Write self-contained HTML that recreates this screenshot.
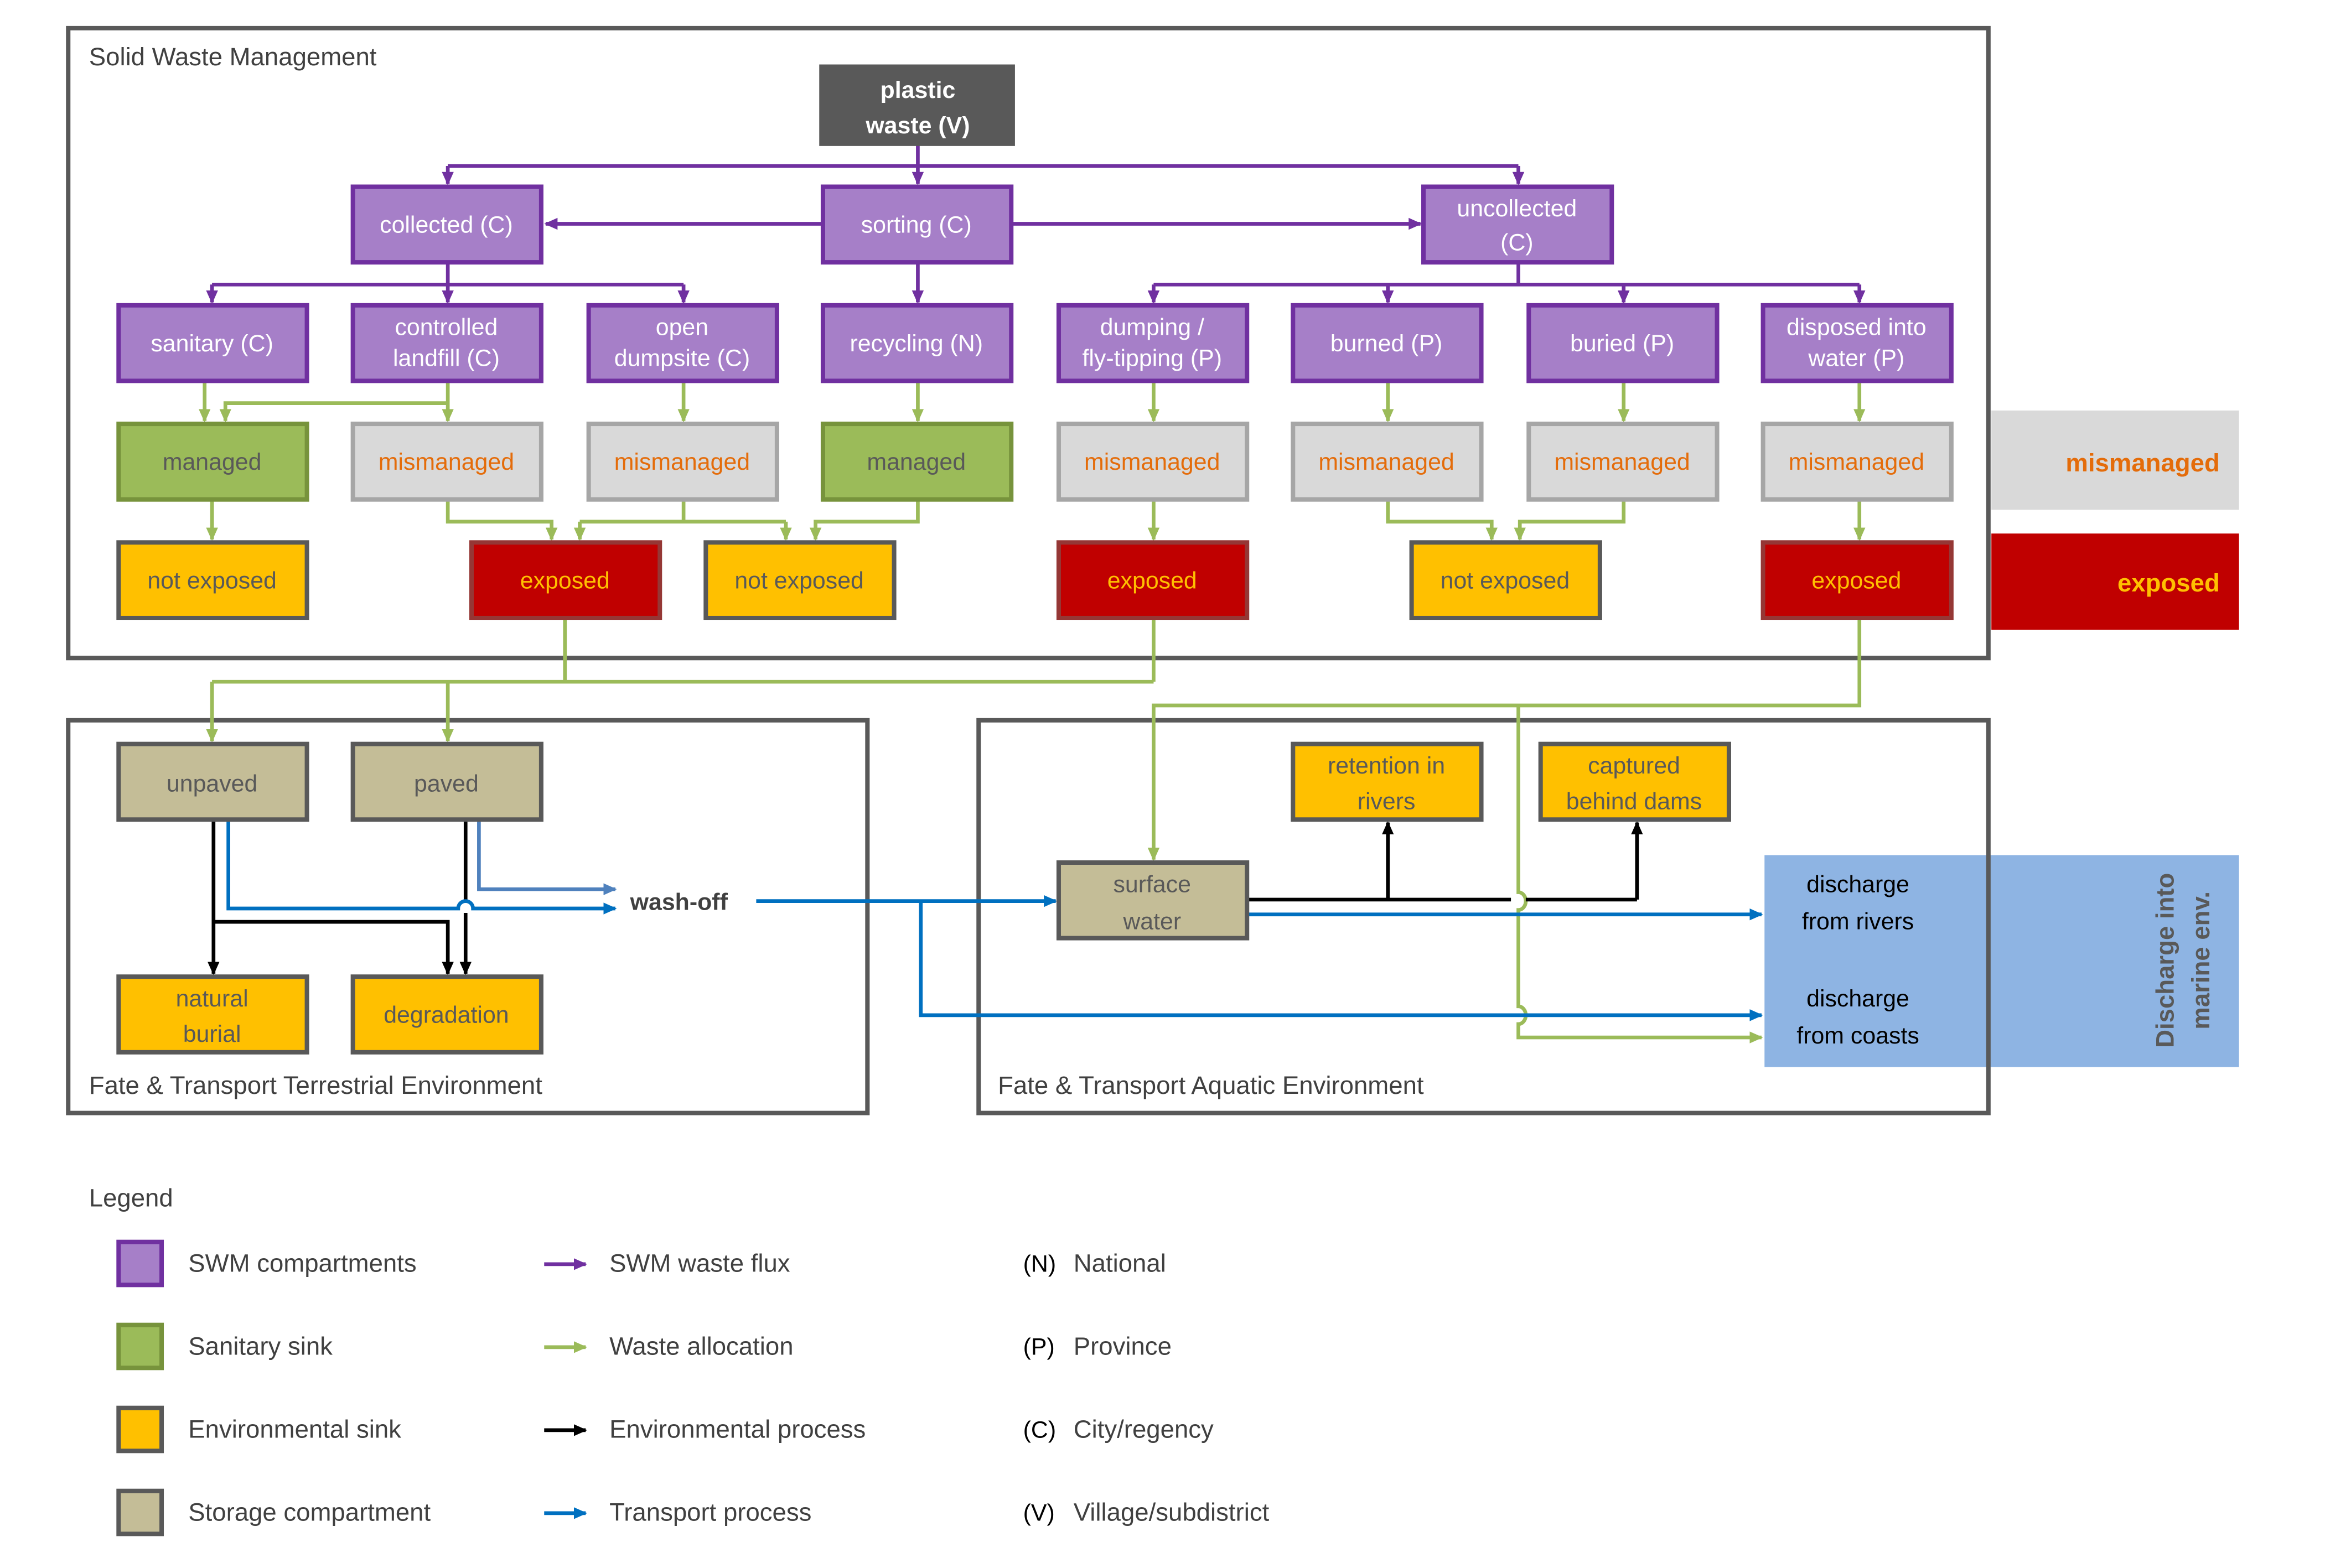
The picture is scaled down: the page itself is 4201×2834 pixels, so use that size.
<!DOCTYPE html>
<html><head><meta charset="utf-8"><style>
html,body{margin:0;padding:0;background:#fff;}
svg{display:block;}
text{font-family:"Liberation Sans",sans-serif;}
</style></head><body>
<svg width="4201" height="2834" viewBox="0 0 1568 1058" preserveAspectRatio="none" xmlns="http://www.w3.org/2000/svg">
<defs>
<marker id="ap" markerWidth="10" markerHeight="10" refX="8" refY="5" orient="auto" markerUnits="userSpaceOnUse"><path d="M0,1 L9,5 L0,9 z" fill="#7030a0"/></marker>
<marker id="ag" markerWidth="10" markerHeight="10" refX="8" refY="5" orient="auto" markerUnits="userSpaceOnUse"><path d="M0,1 L9,5 L0,9 z" fill="#9bbb59"/></marker>
<marker id="ak" markerWidth="10" markerHeight="10" refX="8" refY="5" orient="auto" markerUnits="userSpaceOnUse"><path d="M0,1 L9,5 L0,9 z" fill="#000"/></marker>
<marker id="ab" markerWidth="10" markerHeight="10" refX="8" refY="5" orient="auto" markerUnits="userSpaceOnUse"><path d="M0,1 L9,5 L0,9 z" fill="#0070c0"/></marker>
<marker id="al" markerWidth="10" markerHeight="10" refX="8" refY="5" orient="auto" markerUnits="userSpaceOnUse"><path d="M0,1 L9,5 L0,9 z" fill="#4f81bd"/></marker>
</defs>

<rect x="1343" y="277" width="167" height="67" fill="#d9d9d9"/>
<text x="1497" y="318" text-anchor="end" font-size="17" font-weight="bold" fill="#e46c0a">mismanaged</text>
<rect x="1343" y="360" width="167" height="65" fill="#c00000"/>
<text x="1497" y="399" text-anchor="end" font-size="17" font-weight="bold" fill="#ffc000">exposed</text>

<rect x="1190" y="577" width="320" height="143" fill="#8eb4e3"/>
<text transform="translate(1466,648) rotate(-90)" text-anchor="middle" font-size="17" font-weight="bold" fill="#595959">Discharge into</text>
<text transform="translate(1490,648) rotate(-90)" text-anchor="middle" font-size="17" font-weight="bold" fill="#595959">marine env.</text>
<text x="1253" y="602" text-anchor="middle" font-size="16" fill="#000">discharge</text>
<text x="1253" y="627" text-anchor="middle" font-size="16" fill="#000">from rivers</text>
<text x="1253" y="679" text-anchor="middle" font-size="16" fill="#000">discharge</text>
<text x="1253" y="704" text-anchor="middle" font-size="16" fill="#000">from coasts</text>

<g fill="none" stroke="#595959" stroke-width="3">
<rect x="46" y="19" width="1295" height="425"/>
<rect x="46" y="486" width="539" height="265"/>
<rect x="660" y="486" width="681" height="265"/>
</g>
<text x="60" y="44" font-size="17" fill="#404040">Solid Waste Management</text>
<text x="60" y="738" font-size="17" fill="#404040">Fate &amp; Transport Terrestrial Environment</text>
<text x="673" y="738" font-size="17" fill="#404040">Fate &amp; Transport Aquatic Environment</text>

<g fill="none" stroke="#7030a0" stroke-width="2.5">
<path d="M619 97 V112 M302 112 H1024"/>
<path d="M302 112 V124" marker-end="url(#ap)"/>
<path d="M619 112 V124" marker-end="url(#ap)"/>
<path d="M1024 112 V124" marker-end="url(#ap)"/>
<path d="M554 151 H368" marker-end="url(#ap)"/>
<path d="M683 151 H958" marker-end="url(#ap)"/>
<path d="M302 177 V192 M143 192 H461"/>
<path d="M143 192 V204" marker-end="url(#ap)"/>
<path d="M302 192 V204" marker-end="url(#ap)"/>
<path d="M461 192 V204" marker-end="url(#ap)"/>
<path d="M619 177 V204" marker-end="url(#ap)"/>
<path d="M1024 177 V192 M778 192 H1254"/>
<path d="M778 192 V204" marker-end="url(#ap)"/>
<path d="M936 192 V204" marker-end="url(#ap)"/>
<path d="M1095 192 V204" marker-end="url(#ap)"/>
<path d="M1254 192 V204" marker-end="url(#ap)"/>
</g>

<g fill="none" stroke="#9bbb59" stroke-width="2.5">
<path d="M138 257 V284" marker-end="url(#ag)"/>
<path d="M302 257 V284" marker-end="url(#ag)"/>
<path d="M302 272 H152 V284" marker-end="url(#ag)"/>
<path d="M461 257 V284" marker-end="url(#ag)"/>
<path d="M619 257 V284" marker-end="url(#ag)"/>
<path d="M778 257 V284" marker-end="url(#ag)"/>
<path d="M936 257 V284" marker-end="url(#ag)"/>
<path d="M1095 257 V284" marker-end="url(#ag)"/>
<path d="M1254 257 V284" marker-end="url(#ag)"/>
<path d="M143 337 V364" marker-end="url(#ag)"/>
<path d="M302 337 V352 H372 V364" marker-end="url(#ag)"/>
<path d="M461 337 V352 M391 352 H530"/>
<path d="M391 352 V364" marker-end="url(#ag)"/>
<path d="M530 352 V364" marker-end="url(#ag)"/>
<path d="M619 337 V352 H550 V364" marker-end="url(#ag)"/>
<path d="M778 337 V364" marker-end="url(#ag)"/>
<path d="M936 337 V352 H1006 V364" marker-end="url(#ag)"/>
<path d="M1095 337 V352 H1025 V364" marker-end="url(#ag)"/>
<path d="M1254 337 V364" marker-end="url(#ag)"/>
<path d="M381 418 V460 M778 418 V460 M143 460 H778"/>
<path d="M143 460 V500" marker-end="url(#ag)"/>
<path d="M302 460 V500" marker-end="url(#ag)"/>
<path d="M1254 418 V476 H778 V580" marker-end="url(#ag)"/>
<path d="M1024 476 V602 a5 6 0 0 1 0 12 V679 a5 6 0 0 1 0 12 V700 H1188" marker-end="url(#ag)"/>
</g>

<g fill="none" stroke="#000" stroke-width="2.5">
<path d="M144 553 V657" marker-end="url(#ak)"/>
<path d="M144 622 H302 V657" marker-end="url(#ak)"/>
<path d="M314 553 V608 M314 616 V657" marker-end="url(#ak)"/>
<path d="M842 607 H1019 M1029 607 H1104"/>
<path d="M936 607 V555" marker-end="url(#ak)"/>
<path d="M1104 607 V555" marker-end="url(#ak)"/>
</g>

<g fill="none" stroke-width="2.5">
<path d="M323 553 V600 H415" stroke="#4f81bd" marker-end="url(#al)"/>
<path d="M154 553 V613 H309 a5 5 0 0 1 10 0 H415" stroke="#0070c0" marker-end="url(#ab)"/>
<path d="M510 608 H712" stroke="#0070c0" marker-end="url(#ab)"/>
<path d="M621 608 V685 H1188" stroke="#0070c0" marker-end="url(#ab)"/>
<path d="M842 617 H1188" stroke="#0070c0" marker-end="url(#ab)"/>
</g>
<text x="425" y="614" font-size="16" font-weight="bold" fill="#404040">wash-off</text>

<g stroke-width="3">
<rect x="554" y="45" width="129" height="52" fill="#595959" stroke="#595959"/>
<g fill="#a67fc8" stroke="#7030a0">
<rect x="238" y="126" width="127" height="51"/>
<rect x="555" y="126" width="127" height="51"/>
<rect x="960" y="126" width="127" height="51"/>
<rect x="80" y="206" width="127" height="51"/>
<rect x="238" y="206" width="127" height="51"/>
<rect x="397" y="206" width="127" height="51"/>
<rect x="555" y="206" width="127" height="51"/>
<rect x="714" y="206" width="127" height="51"/>
<rect x="872" y="206" width="127" height="51"/>
<rect x="1031" y="206" width="127" height="51"/>
<rect x="1189" y="206" width="127" height="51"/>
</g>
<g fill="#9bbb59" stroke="#77933c">
<rect x="80" y="286" width="127" height="51"/>
<rect x="555" y="286" width="127" height="51"/>
</g>
<g fill="#d9d9d9" stroke="#a6a6a6">
<rect x="238" y="286" width="127" height="51"/>
<rect x="397" y="286" width="127" height="51"/>
<rect x="714" y="286" width="127" height="51"/>
<rect x="872" y="286" width="127" height="51"/>
<rect x="1031" y="286" width="127" height="51"/>
<rect x="1189" y="286" width="127" height="51"/>
</g>
<g fill="#ffc000" stroke="#595959">
<rect x="80" y="366" width="127" height="51"/>
<rect x="476" y="366" width="127" height="51"/>
<rect x="952" y="366" width="127" height="51"/>
<rect x="80" y="659" width="127" height="51"/>
<rect x="238" y="659" width="127" height="51"/>
<rect x="872" y="502" width="127" height="51"/>
<rect x="1039" y="502" width="127" height="51"/>
</g>
<g fill="#c00000" stroke="#953735">
<rect x="318" y="366" width="127" height="51"/>
<rect x="714" y="366" width="127" height="51"/>
<rect x="1189" y="366" width="127" height="51"/>
</g>
<g fill="#c4bd97" stroke="#595959">
<rect x="80" y="502" width="127" height="51"/>
<rect x="238" y="502" width="127" height="51"/>
<rect x="714" y="582" width="127" height="51"/>
</g>
</g>

<g font-size="16" text-anchor="middle">
<text x="619" y="66" fill="#fff" font-weight="bold">plastic</text>
<text x="619" y="90" fill="#fff" font-weight="bold">waste (V)</text>
<g fill="#fff">
<text x="301" y="157">collected (C)</text>
<text x="618" y="157">sorting (C)</text>
<text x="1023" y="146">uncollected</text>
<text x="1023" y="169">(C)</text>
<text x="143" y="237">sanitary (C)</text>
<text x="301" y="226">controlled</text>
<text x="301" y="247">landfill (C)</text>
<text x="460" y="226">open</text>
<text x="460" y="247">dumpsite (C)</text>
<text x="618" y="237">recycling (N)</text>
<text x="777" y="226">dumping /</text>
<text x="777" y="247">fly-tipping (P)</text>
<text x="935" y="237">burned (P)</text>
<text x="1094" y="237">buried (P)</text>
<text x="1252" y="226">disposed into</text>
<text x="1252" y="247">water (P)</text>
</g>
<g fill="#595959">
<text x="143" y="317">managed</text>
<text x="618" y="317">managed</text>
<text x="143" y="397">not exposed</text>
<text x="539" y="397">not exposed</text>
<text x="1015" y="397">not exposed</text>
<text x="143" y="534">unpaved</text>
<text x="301" y="534">paved</text>
<text x="143" y="679">natural</text>
<text x="143" y="703">burial</text>
<text x="301" y="690">degradation</text>
<text x="935" y="522">retention in</text>
<text x="935" y="546">rivers</text>
<text x="1102" y="522">captured</text>
<text x="1102" y="546">behind dams</text>
<text x="777" y="602">surface</text>
<text x="777" y="627">water</text>
</g>
<g fill="#e46c0a">
<text x="301" y="317">mismanaged</text>
<text x="460" y="317">mismanaged</text>
<text x="777" y="317">mismanaged</text>
<text x="935" y="317">mismanaged</text>
<text x="1094" y="317">mismanaged</text>
<text x="1252" y="317">mismanaged</text>
</g>
<g fill="#ffc000">
<text x="381" y="397">exposed</text>
<text x="777" y="397">exposed</text>
<text x="1252" y="397">exposed</text>
</g>
</g>

<text x="60" y="814" font-size="17" fill="#404040">Legend</text>
<g stroke-width="3">
<rect x="80" y="838" width="29" height="29" fill="#a67fc8" stroke="#7030a0"/>
<rect x="80" y="894" width="29" height="29" fill="#9bbb59" stroke="#77933c"/>
<rect x="80" y="950" width="29" height="29" fill="#ffc000" stroke="#595959"/>
<rect x="80" y="1006" width="29" height="29" fill="#c4bd97" stroke="#595959"/>
</g>
<g font-size="17" fill="#404040">
<text x="127" y="858">SWM compartments</text>
<text x="127" y="914">Sanitary sink</text>
<text x="127" y="970">Environmental sink</text>
<text x="127" y="1026">Storage compartment</text>
<text x="411" y="858">SWM waste flux</text>
<text x="411" y="914">Waste allocation</text>
<text x="411" y="970">Environmental process</text>
<text x="411" y="1026">Transport process</text>
<text x="724" y="858">National</text>
<text x="724" y="914">Province</text>
<text x="724" y="970">City/regency</text>
<text x="724" y="1026">Village/subdistrict</text>
</g>
<g font-size="16" fill="#000">
<text x="690" y="858">(N)</text>
<text x="690" y="914">(P)</text>
<text x="690" y="970">(C)</text>
<text x="690" y="1026">(V)</text>
</g>
<g fill="none" stroke-width="2.5">
<path d="M367 853 H395" stroke="#7030a0" marker-end="url(#ap)"/>
<path d="M367 909 H395" stroke="#9bbb59" marker-end="url(#ag)"/>
<path d="M367 965 H395" stroke="#000" marker-end="url(#ak)"/>
<path d="M367 1021 H395" stroke="#0070c0" marker-end="url(#ab)"/>
</g>
</svg>
</body></html>
